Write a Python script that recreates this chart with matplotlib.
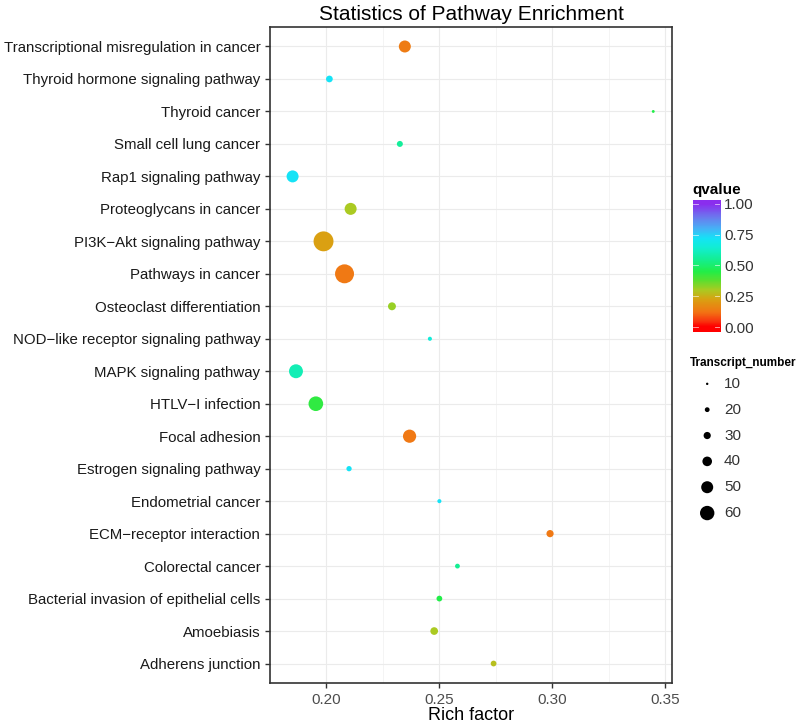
import numpy as np
import matplotlib
matplotlib.use('Agg')
import matplotlib.pyplot as plt
from matplotlib.colors import LinearSegmentedColormap

plt.rcParams['font.family'] = ['Liberation Sans', 'DejaVu Sans']

# Pathways listed bottom -> top, as on the chart.
pathways = [
    'Adherens junction', 'Amoebiasis', 'Bacterial invasion of epithelial cells',
    'Colorectal cancer', 'ECM\u2212receptor interaction', 'Endometrial cancer',
    'Estrogen signaling pathway', 'Focal adhesion', 'HTLV\u2212I infection',
    'MAPK signaling pathway', 'NOD\u2212like receptor signaling pathway',
    'Osteoclast differentiation', 'Pathways in cancer',
    'PI3K\u2212Akt signaling pathway', 'Proteoglycans in cancer',
    'Rap1 signaling pathway', 'Small cell lung cancer', 'Thyroid cancer',
    'Thyroid hormone signaling pathway',
    'Transcriptional misregulation in cancer',
]
rich_factor = [0.274, 0.2477, 0.250, 0.258, 0.299, 0.250, 0.210, 0.2368,
               0.1953, 0.1865, 0.2458, 0.229, 0.208, 0.1987, 0.2107, 0.185,
               0.2325, 0.3447, 0.2013, 0.2347]
transcripts = [24, 32, 24, 20, 30, 17, 22, 55, 61, 58, 17, 33, 79, 83, 50,
               50, 25, 12, 28, 50]
qvalue = [0.28, 0.30, 0.45, 0.55, 0.13, 0.72, 0.72, 0.13, 0.43, 0.60, 0.66,
          0.32, 0.13, 0.22, 0.30, 0.72, 0.56, 0.45, 0.72, 0.14]

size_breaks = [10, 20, 30, 40, 50, 60]
q_ticks = [0.0, 0.25, 0.5, 0.75, 1.0]

# colour stops picked off the colour bar
cmap = LinearSegmentedColormap.from_list('q_rainbow', [
    (0.00, '#FF0000'),
    (0.05, '#F83A10'),
    (0.12, '#F27514'),
    (0.22, '#DAA012'),
    (0.30, '#AACB22'),
    (0.38, '#58E030'),
    (0.45, '#22EE48'),
    (0.55, '#14EE94'),
    (0.64, '#12EED0'),
    (0.72, '#14E4F6'),
    (0.80, '#46B2F6'),
    (0.89, '#6A7CEE'),
    (1.00, '#8A2EEE'),
])


def size_of(n):
    # diameter in pixels (dpi 100) -> marker area in points^2
    d = 0.24 * np.asarray(n, dtype=float)
    return (d * 0.72) ** 2


fig = plt.figure(figsize=(8, 7.28), dpi=100)
ax = fig.add_axes([0.3375, 0.0618, 0.5025, 0.9011])

ypos = np.arange(1, len(pathways) + 1)
ax.scatter(rich_factor, ypos, s=size_of(transcripts), c=qvalue, cmap=cmap,
           vmin=0, vmax=1, linewidths=0, zorder=3)

ax.set_xlim(0.1767, 0.353)
ax.set_ylim(0.4, len(pathways) + 0.6)
ax.set_xticks([0.20, 0.25, 0.30, 0.35])
ax.set_xticks([0.175, 0.225, 0.275, 0.325], minor=True)
ax.set_xticklabels(['0.20', '0.25', '0.30', '0.35'])
ax.set_yticks(ypos)
ax.set_yticklabels(pathways)
ax.grid(True, which='major', color='#EBEBEB', linewidth=0.8)
ax.grid(True, which='minor', axis='x', color='#F2F2F2', linewidth=0.6)
ax.set_axisbelow(True)
ax.tick_params(axis='both', which='major', length=3.5, width=1, color='#333333',
               labelsize=10.8)
ax.tick_params(axis='y', labelcolor='#1A1A1A')
ax.tick_params(axis='x', labelcolor='#4D4D4D', labelsize=11)
ax.tick_params(which='minor', length=0)
for sp in ax.spines.values():
    sp.set_color('#333333')
    sp.set_linewidth(1.2)
ax.set_xlabel('Rich factor', fontsize=13, labelpad=0)
ax.set_title('Statistics of Pathway Enrichment', fontsize=15, pad=5)

# colour bar for qvalue
cax = fig.add_axes([0.866, 0.544, 0.034, 0.181])
grad = np.linspace(-0.04, 1.03, 256).reshape(-1, 1)
cax.imshow(grad, aspect='auto', cmap=cmap, vmin=0, vmax=1, origin='lower',
           extent=[0, 1, -0.04, 1.03])
cax.set_xlim(0, 1)
cax.set_ylim(-0.04, 1.03)
cax.set_xticks([])
cax.yaxis.tick_right()
cax.set_yticks(q_ticks)
cax.set_yticklabels(['%.2f' % q for q in q_ticks])
cax.tick_params(axis='y', length=0, labelsize=11, labelcolor='#333333', pad=3)
for q in q_ticks:
    cax.plot([0, 0.2], [q, q], color='white', lw=0.6, alpha=0.7)
    cax.plot([0.8, 1], [q, q], color='white', lw=0.6, alpha=0.7)
for sp in cax.spines.values():
    sp.set_visible(False)
fig.text(0.865, 0.734, 'qvalue', fontsize=11, fontweight='bold')

# size legend
fig.text(0.862, 0.497, 'Transcript_number', fontsize=8.5, fontweight='bold')
lax = fig.add_axes([0.86, 0.2775, 0.06, 0.213])
lax.set_xlim(0, 1)
lax.set_ylim(len(size_breaks) - 0.5, -0.5)
lax.axis('off')
lax.scatter(np.full(len(size_breaks), 0.4), np.arange(len(size_breaks)),
            s=size_of(size_breaks), color='black', linewidths=0)
for i, b in enumerate(size_breaks):
    lax.text(0.75, i, str(b), va='center', fontsize=11, color='#333333')

fig.savefig('out.png', dpi=100)
